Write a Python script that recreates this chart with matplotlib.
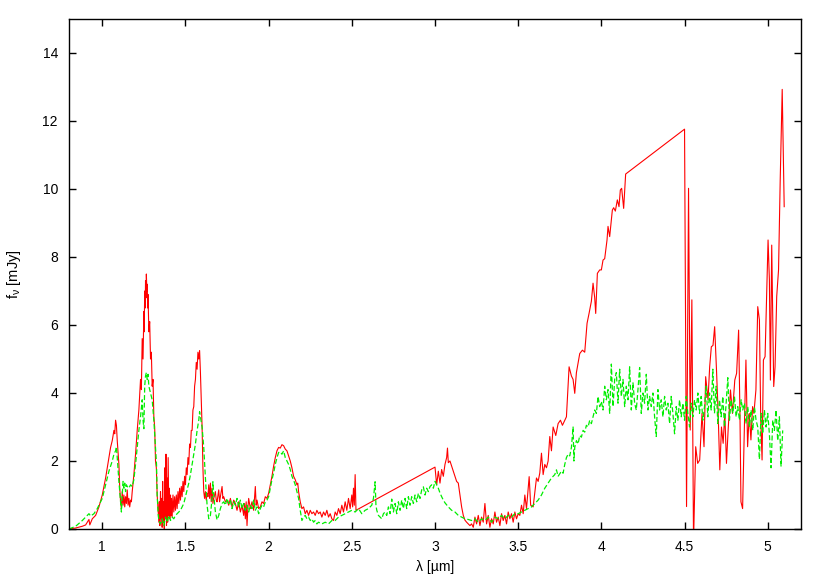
import matplotlib
matplotlib.use("Agg")
import matplotlib.pyplot as plt
from matplotlib.ticker import MultipleLocator, FormatStrFormatter

plt.rcParams["font.family"] = ["Liberation Sans", "DejaVu Sans"]
plt.rcParams["mathtext.fontset"] = "custom"
plt.rcParams["mathtext.rm"] = "Liberation Sans"
plt.rcParams["mathtext.it"] = "Liberation Sans:italic"
plt.rcParams["mathtext.default"] = "regular"

# red spectrum: wavelength [um] / flux [mJy]
red_wl = [
    0.80, 0.84, 0.88, 0.90, 0.92, 0.925, 0.94, 0.96, 0.98, 1.00, 1.02, 1.04, 1.05, 1.06,
    1.07, 1.075, 1.08, 1.085, 1.09, 1.10, 1.105, 1.11, 1.115, 1.12, 1.125, 1.13, 1.135,
    1.14, 1.145, 1.15, 1.155, 1.16, 1.165, 1.17, 1.175, 1.18, 1.19, 1.20, 1.21, 1.22,
    1.23, 1.235, 1.24, 1.245, 1.25, 1.252, 1.255, 1.258, 1.26, 1.263, 1.265, 1.268, 1.27,
    1.273, 1.275, 1.28, 1.285, 1.29, 1.295, 1.30, 1.305, 1.31, 1.315, 1.32, 1.325, 1.33,
    1.335, 1.34, 1.343, 1.346, 1.35, 1.353, 1.356, 1.36, 1.363, 1.366, 1.37, 1.373, 1.376,
    1.38, 1.383, 1.386, 1.39, 1.393, 1.396, 1.40, 1.403, 1.406, 1.41, 1.413, 1.416, 1.42,
    1.425, 1.43, 1.435, 1.44, 1.445, 1.45, 1.455, 1.46, 1.465, 1.47, 1.475, 1.48, 1.485,
    1.49, 1.495, 1.50, 1.505, 1.51, 1.515, 1.52, 1.525, 1.53, 1.535, 1.54, 1.545, 1.55,
    1.555, 1.56, 1.565, 1.57, 1.575, 1.58, 1.585, 1.59, 1.595, 1.60, 1.605, 1.61, 1.615,
    1.62, 1.625, 1.63, 1.635, 1.64, 1.645, 1.65, 1.655, 1.66, 1.665, 1.67, 1.68, 1.685,
    1.69, 1.70, 1.705, 1.71, 1.72, 1.725, 1.73, 1.74, 1.75, 1.76, 1.77, 1.78, 1.79, 1.80,
    1.81, 1.82, 1.83, 1.84, 1.85, 1.855, 1.86, 1.865, 1.87, 1.875, 1.88, 1.89, 1.90, 1.91,
    1.92, 1.925, 1.93, 1.94, 1.95, 1.96, 1.97, 1.98, 1.99, 2.00, 2.01, 2.02, 2.03, 2.04,
    2.05, 2.06, 2.07, 2.08, 2.09, 2.10, 2.11, 2.12, 2.13, 2.14, 2.15, 2.16, 2.17, 2.175,
    2.18, 2.19, 2.20, 2.21, 2.22, 2.23, 2.24, 2.25, 2.26, 2.27, 2.28, 2.29, 2.30, 2.31,
    2.32, 2.33, 2.34, 2.35, 2.36, 2.37, 2.38, 2.39, 2.40, 2.41, 2.42, 2.43, 2.44, 2.45,
    2.46, 2.47, 2.48, 2.49, 2.50, 2.505, 2.51, 2.515, 2.52, 2.525,
    3.00, 3.01, 3.02, 3.03, 3.04, 3.05, 3.06, 3.07, 3.075, 3.08, 3.09, 3.10, 3.11, 3.12,
    3.13, 3.14, 3.15, 3.16, 3.17, 3.18, 3.19, 3.20, 3.21, 3.22, 3.23, 3.24, 3.25, 3.26,
    3.27, 3.28, 3.29, 3.30, 3.31, 3.32, 3.33, 3.34, 3.35, 3.36, 3.37, 3.38, 3.39, 3.40,
    3.41, 3.42, 3.43, 3.44, 3.45, 3.46, 3.47, 3.48, 3.49, 3.50, 3.51, 3.52, 3.53, 3.54,
    3.55, 3.566, 3.575, 3.59, 3.61, 3.62, 3.63, 3.64, 3.65, 3.66, 3.67, 3.68, 3.69, 3.70,
    3.71, 3.726, 3.74, 3.754, 3.766, 3.79, 3.806, 3.82, 3.83, 3.84, 3.85, 3.87, 3.886,
    3.90, 3.914, 3.926, 3.94, 3.95, 3.96, 3.966, 3.976, 3.99, 4.00, 4.01, 4.02, 4.034,
    4.04, 4.05, 4.066, 4.074, 4.084, 4.096, 4.106, 4.114, 4.122, 4.134, 4.146,
    4.50, 4.512, 4.524, 4.534, 4.544, 4.554, 4.567, 4.579, 4.591, 4.605, 4.617, 4.627,
    4.641, 4.651, 4.661, 4.671, 4.681, 4.692, 4.702, 4.712, 4.722, 4.732, 4.742, 4.752,
    4.762, 4.776, 4.788, 4.802, 4.813, 4.825, 4.833, 4.839, 4.849, 4.857, 4.869, 4.879,
    4.889, 4.899, 4.909, 4.917, 4.929, 4.94, 4.95, 4.958, 4.966, 4.974, 4.984, 4.994,
    5.002, 5.01, 5.016, 5.024, 5.036, 5.044, 5.054, 5.065, 5.075, 5.087, 5.099,
]
red_flux = [
    0.00, 0.03, 0.08, 0.12, 0.28, 0.12, 0.30, 0.40, 0.65, 1.00, 1.50, 2.10, 2.40, 2.60,
    2.90, 2.80, 3.20, 3.05, 2.60, 1.90, 1.20, 0.80, 0.60, 1.10, 0.70, 1.00, 0.65,
    0.95, 0.75, 1.15, 0.70, 0.90, 0.65, 0.85, 0.80, 1.10, 1.60, 2.20, 2.90, 3.50,
    4.40, 4.10, 5.60, 5.00, 6.40, 5.80, 7.00, 6.50, 7.30, 6.80, 7.50, 7.00, 7.20,
    6.50, 6.90, 5.80, 6.10, 5.00, 5.20, 4.20, 4.40, 3.30, 3.00, 2.00, 1.80, 1.00,
    0.60, 0.20, 0.80, 0.10, 1.10, 0.30, 0.90, 0.05, 1.40, 0.20, 0.80, 0.00, 1.80,
    0.30, 2.20, 0.10, 1.50, 0.20, 2.10, 0.40, 1.20, 0.30, 1.00, 0.40, 0.90, 0.35,
    1.00, 0.50, 0.95, 0.55, 1.00, 0.60, 1.10, 0.75, 1.20, 0.85, 1.25, 0.95, 1.40,
    1.10, 1.55, 1.30, 1.80, 1.60, 2.10, 1.90, 2.50, 2.40, 2.90, 2.90, 3.50, 3.60,
    4.20, 4.40, 4.90, 4.70, 5.20, 5.00, 5.25, 4.60, 3.80, 3.00, 1.80, 1.10, 0.90,
    1.10, 0.85, 1.05, 0.95, 1.30, 0.90, 1.35, 0.80, 1.20, 0.75, 0.90, 1.10, 0.85,
    0.80, 1.15, 0.80, 0.95, 1.25, 0.90, 0.95, 0.80, 0.85, 0.70, 0.90, 0.65, 0.85, 0.75,
    0.55, 0.80, 0.50, 0.70, 0.40, 0.75, 0.30, 0.80, 0.10, 0.60, 0.90, 0.60, 0.80, 0.55,
    1.25, 0.70, 0.85, 0.60, 0.65, 0.80, 0.75, 0.95, 0.90, 1.05, 1.30, 1.55, 1.85, 2.10,
    2.30, 2.40, 2.38, 2.48, 2.45, 2.35, 2.30, 2.15, 2.00, 1.80, 1.55, 1.45, 1.30, 1.35,
    1.10, 0.80, 0.60, 0.65, 0.45, 0.55, 0.40, 0.55, 0.45, 0.50, 0.40, 0.55, 0.45, 0.50,
    0.35, 0.50, 0.40, 0.55, 0.35, 0.45, 0.30, 0.25, 0.50, 0.40, 0.60, 0.45, 0.70, 0.50,
    0.80, 0.55, 0.90, 0.60, 1.00, 0.65, 1.20, 0.70, 1.60, 0.55,
    1.82, 1.30, 1.70, 1.35, 1.75, 1.55, 1.90, 2.10, 2.38, 1.95, 2.00, 1.85, 1.70, 1.55,
    1.40, 1.35, 1.00, 0.65, 0.40, 0.26, 0.20, 0.15, 0.10, 0.15, 0.05, 0.35, 0.15, 0.40,
    0.10, 0.35, 0.20, 0.75, 0.15, 0.40, 0.05, 0.30, 0.15, 0.50, 0.20, 0.35, 0.10, 0.45,
    0.25, 0.40, 0.15, 0.50, 0.30, 0.45, 0.20, 0.50, 0.30, 0.45, 0.40, 0.70, 0.45, 1.00,
    0.60, 1.54, 0.70, 0.65, 1.50, 1.40, 1.65, 2.23, 1.60, 1.90, 1.80, 2.00, 2.72, 2.30,
    3.00, 2.75, 3.10, 3.20, 3.05, 3.30, 4.77, 4.50, 4.40, 3.99, 4.60, 5.16, 5.26,
    5.20, 6.05, 6.34, 6.70, 7.23, 6.80, 6.34, 7.52, 7.62, 7.62, 7.91, 7.95, 8.50,
    8.90, 8.60, 9.38, 9.45, 9.35, 9.68, 9.48, 9.97, 10.02, 9.43, 10.44,
    11.76, 0.66, 10.02, 2.91, 6.74, -0.40, 2.42, 1.93, 2.03, 3.40, 2.42, 4.48,
    3.80, 4.77, 5.36, 5.40, 5.95, 4.68, 3.40, 1.74, 3.00, 2.52, 3.40, 1.93,
    2.91, 4.09, 3.40, 4.38, 4.58, 5.85, 3.40, 0.80, 0.60, 2.42, 4.97, 2.42,
    3.40, 2.62, 3.60, 3.40, 4.09, 6.54, 6.15, 3.20, 2.03, 4.97, 5.07, 7.03,
    8.50, 7.33, 4.38, 8.35, 4.19, 4.77, 6.84, 7.62, 10.26, 12.93, 9.48,
]

# green (dashed) spectrum
green_wl = [
    0.80, 0.84, 0.88, 0.90, 0.92, 0.93, 0.95, 0.97, 1.00, 1.02, 1.04, 1.06, 1.07, 1.08,
    1.085, 1.09, 1.10, 1.11, 1.115, 1.12, 1.125, 1.13, 1.135, 1.14, 1.145, 1.15, 1.16,
    1.17, 1.18, 1.19, 1.20, 1.21, 1.22, 1.23, 1.24, 1.245, 1.25, 1.255, 1.26, 1.265,
    1.27, 1.275, 1.28, 1.29, 1.30, 1.31, 1.32, 1.326, 1.33, 1.336, 1.34, 1.35, 1.36,
    1.37, 1.38, 1.39, 1.40, 1.41, 1.42, 1.43, 1.44, 1.45, 1.46, 1.47, 1.48, 1.49, 1.50,
    1.51, 1.52, 1.53, 1.54, 1.55, 1.56, 1.57, 1.58, 1.585, 1.59, 1.60, 1.61, 1.62, 1.63,
    1.64, 1.65, 1.66, 1.665, 1.67, 1.68, 1.69, 1.70, 1.71, 1.72, 1.73, 1.74, 1.75, 1.76,
    1.77, 1.78, 1.79, 1.80, 1.81, 1.82, 1.83, 1.84, 1.85, 1.86, 1.87, 1.88, 1.89, 1.90,
    1.91, 1.92, 1.93, 1.94, 1.95, 1.96, 1.97, 1.98, 1.99, 2.00, 2.01, 2.02, 2.03, 2.04,
    2.05, 2.06, 2.07, 2.08, 2.09, 2.10, 2.11, 2.12, 2.13, 2.14, 2.15, 2.16, 2.17, 2.18,
    2.19, 2.20, 2.21, 2.22, 2.23, 2.24, 2.25, 2.26, 2.27, 2.28, 2.29, 2.30, 2.32, 2.34,
    2.36, 2.38, 2.40, 2.42, 2.44, 2.46, 2.48, 2.50, 2.52, 2.54, 2.56, 2.58, 2.60, 2.62,
    2.63, 2.64, 2.645, 2.65, 2.66, 2.67, 2.68, 2.69, 2.70, 2.71, 2.72, 2.73, 2.74, 2.75,
    2.76, 2.77, 2.78, 2.79, 2.80, 2.81, 2.82, 2.83, 2.84, 2.85, 2.86, 2.87, 2.88, 2.89,
    2.90, 2.91, 2.92, 2.93, 2.94, 2.95, 2.96, 2.97, 2.98, 2.99, 3.00, 3.01, 3.02, 3.03,
    3.04, 3.05, 3.06, 3.08, 3.10, 3.12, 3.14, 3.16, 3.18, 3.20, 3.22, 3.24, 3.26, 3.28,
    3.30, 3.32, 3.34, 3.36, 3.38, 3.40, 3.42, 3.44, 3.46, 3.48, 3.50, 3.52, 3.54, 3.56,
    3.58, 3.60, 3.62, 3.64, 3.66, 3.68, 3.70, 3.72, 3.73, 3.74, 3.76, 3.77, 3.78, 3.79,
    3.80, 3.81, 3.82, 3.83, 3.835, 3.84, 3.85, 3.86, 3.87, 3.88, 3.89, 3.90, 3.91, 3.92,
    3.93, 3.94, 3.95, 3.96, 3.97, 3.98, 3.99, 4.00, 4.01, 4.02, 4.03, 4.04, 4.05, 4.06,
    4.07, 4.08, 4.09, 4.10, 4.11, 4.12, 4.13, 4.14, 4.15, 4.16, 4.17, 4.18, 4.19, 4.20,
    4.21, 4.22, 4.23, 4.24, 4.25, 4.26, 4.27, 4.28, 4.29, 4.30, 4.31, 4.32, 4.33, 4.34,
    4.35, 4.36, 4.37, 4.38, 4.39, 4.40, 4.41, 4.42, 4.43, 4.44, 4.45, 4.46, 4.47, 4.48,
    4.49, 4.50, 4.51, 4.52, 4.53, 4.54, 4.55, 4.56, 4.57, 4.58, 4.59, 4.60, 4.61, 4.62,
    4.63, 4.64, 4.65, 4.66, 4.67, 4.68, 4.69, 4.70, 4.71, 4.72, 4.73, 4.74, 4.75, 4.76,
    4.77, 4.78, 4.79, 4.80, 4.81, 4.82, 4.83, 4.84, 4.85, 4.86, 4.87, 4.88, 4.89, 4.90,
    4.91, 4.92, 4.93, 4.94, 4.95, 4.96, 4.97, 4.98, 4.99, 5.00, 5.01, 5.02, 5.03, 5.04,
    5.05, 5.06, 5.07, 5.08, 5.09,
]
green_flux = [
    0.00, 0.08, 0.25, 0.35, 0.45, 0.38, 0.45, 0.60, 0.90, 1.30, 1.70, 2.00, 2.20, 2.30,
    2.42, 2.10, 1.40, 0.80, 0.50, 1.00, 1.40, 1.20, 1.35, 1.10, 1.30, 1.25, 1.20,
    1.30, 1.25, 1.45, 1.90, 2.40, 2.90, 3.30, 3.80, 3.20, 2.95, 4.20, 4.50, 4.60,
    4.40, 4.55, 4.20, 4.00, 3.80, 3.20, 2.40, 1.90, 1.00, 0.45, 0.25, 0.15, 0.30,
    0.10, 0.35, 0.20, 0.40, 0.25, 0.35, 0.30, 0.40, 0.45, 0.50, 0.55, 0.65, 0.75, 0.95,
    1.15, 1.35, 1.60, 1.90, 2.20, 2.50, 2.90, 3.20, 3.45, 3.30, 3.00, 2.40, 1.50, 0.70,
    0.30, 0.40, 0.90, 1.39, 1.00, 0.50, 0.27, 0.40, 0.60, 0.75, 0.80, 0.70, 0.90, 0.75,
    0.85, 0.60, 0.80, 0.70, 0.90, 0.65, 0.85, 0.60, 0.75, 0.55, 0.70, 0.50, 0.70, 0.60,
    0.85, 0.55, 0.65, 0.45, 0.60, 0.70, 0.65, 0.80, 0.85, 0.95, 1.20, 1.45, 1.65, 1.90,
    2.10, 2.25, 2.27, 2.20, 2.30, 2.10, 2.00, 1.90, 1.75, 1.55, 1.44, 1.30, 1.10, 0.90,
    0.55, 0.25, 0.35, 0.40, 0.30, 0.35, 0.25, 0.30, 0.20, 0.25, 0.15, 0.20, 0.15, 0.20,
    0.15, 0.25, 0.25, 0.35, 0.40, 0.45, 0.50, 0.55, 0.50, 0.60, 0.45, 0.55, 0.60, 0.70,
    0.90, 1.39, 0.70, 0.55, 0.40, 0.35, 0.30, 0.45, 0.50, 0.40, 0.65, 0.45, 0.88, 0.50,
    0.75, 0.45, 0.80, 0.55, 0.85, 0.60, 0.90, 0.60, 0.95, 0.70, 0.95, 0.75, 1.00, 0.80,
    1.05, 0.90, 1.15, 1.24, 1.00, 1.20, 1.10, 1.25, 1.30, 1.20, 1.40, 1.30, 1.20, 1.06,
    0.95, 0.85, 0.77, 0.65, 0.55, 0.50, 0.40, 0.35, 0.30, 0.28, 0.25, 0.30, 0.20, 0.30,
    0.25, 0.35, 0.20, 0.35, 0.30, 0.40, 0.30, 0.40, 0.35, 0.45, 0.45, 0.50, 0.55, 0.60,
    0.65, 0.75, 0.85, 1.00, 1.20, 1.35, 1.50, 1.60, 1.74, 1.55, 1.70, 1.64, 1.90, 2.10,
    2.20, 2.15, 2.40, 3.00, 2.00, 2.40, 2.60, 2.50, 2.75, 2.70, 2.90, 2.85, 3.05, 3.00,
    3.20, 3.10, 3.30, 3.50, 3.40, 3.90, 3.60, 3.75, 3.50, 4.20, 3.80, 4.10, 3.40, 4.85,
    3.60, 4.40, 4.60, 3.70, 4.70, 3.90, 4.40, 3.60, 4.20, 3.80, 4.77, 3.50, 4.30, 3.70,
    3.50, 4.10, 4.75, 3.40, 4.00, 3.70, 4.55, 3.50, 3.90, 3.60, 4.00, 3.30, 2.72, 4.10,
    3.50, 3.80, 3.30, 3.90, 3.50, 3.70, 3.10, 3.90, 3.40, 2.80, 3.60, 3.20, 3.80, 3.30,
    3.70, 3.20, 3.90, 3.40, 3.00, 3.70, 3.30, 3.80, 3.50, 4.00, 3.40, 3.90, 3.20, 3.60,
    4.20, 3.30, 4.00, 3.50, 4.70, 3.40, 4.20, 3.10, 3.80, 3.30, 3.90, 3.00, 3.70, 4.45,
    3.20, 3.80, 3.40, 3.90, 3.30, 3.60, 3.20, 3.80, 3.50, 3.70, 3.10, 3.60, 3.00, 3.50,
    2.90, 3.60, 3.20, 3.00, 2.05, 3.40, 2.80, 3.50, 3.00, 3.40, 2.80, 1.80, 3.20, 2.90,
    3.50, 2.60, 3.30, 1.85, 2.90,
]

x_ticks = [1, 1.5, 2, 2.5, 3, 3.5, 4, 4.5, 5]

fig = plt.figure(figsize=(8.3, 5.81), dpi=100)
ax = fig.add_axes([69 / 830, 52 / 581, 732 / 830, 510 / 581])

ax.plot(red_wl, red_flux, color="#ff0000", lw=0.8)
ax.plot(green_wl, green_flux, color="#00ee00", lw=0.9, ls=(0, (4, 2)))

ax.set_xlim(0.8, 5.2)
ax.set_ylim(0, 15)
ax.set_xticks(x_ticks)
ax.xaxis.set_major_formatter(FormatStrFormatter("%g"))
ax.yaxis.set_major_locator(MultipleLocator(2))
ax.tick_params(direction="in", top=True, right=True, length=5, width=1,
               labelsize=10, pad=8)
for sp in ax.spines.values():
    sp.set_linewidth(1)

ax.set_xlabel("λ [µm]", fontsize=10, labelpad=4)
ax.set_ylabel(r"f$_{\nu}$ [mJy]", fontsize=10.5, labelpad=14)

fig.savefig("out.png", dpi=100)
